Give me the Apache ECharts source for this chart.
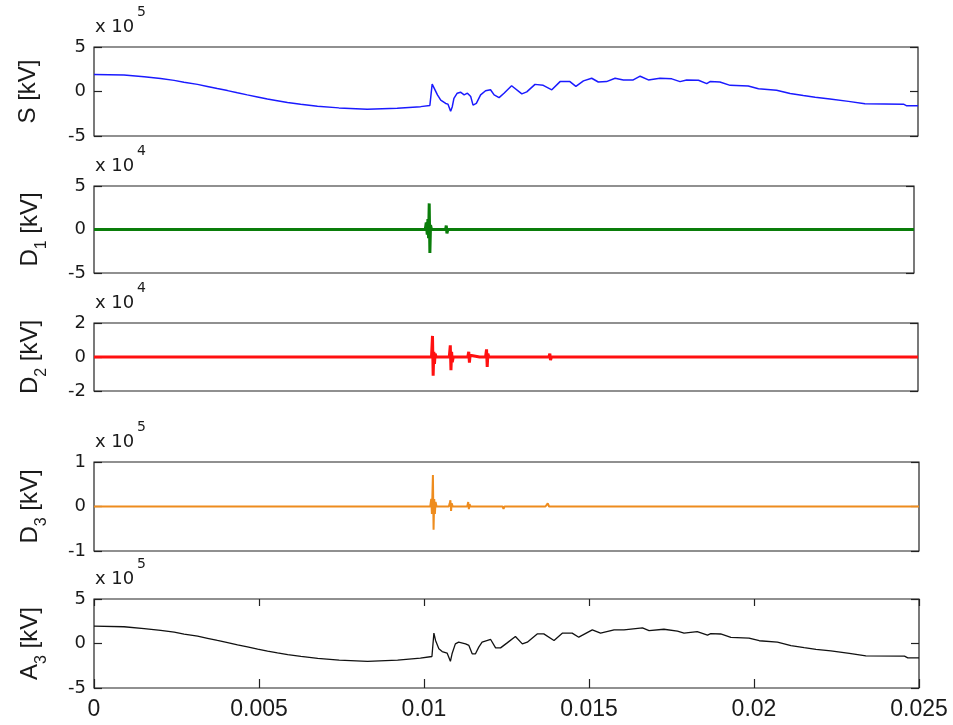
<!DOCTYPE html>
<html>
<head>
<meta charset="utf-8">
<script src="https://cdn.jsdelivr.net/npm/echarts@6/dist/echarts.min.js"></script>
<style>
html,body{margin:0;padding:0;background:#fff;}
#chart{width:953px;height:725px;}
</style>
</head>
<body>
<div id="chart"></div>
<script>
// time axis (s)
const xTicks = [0, 0.005, 0.01, 0.015, 0.02, 0.025];
const xTickLabels = ['0', '0.005', '0.01', '0.015', '0.02', '0.025'];

// S [kV], in units of 1e5
const S_pts = [
[0,1.9],[0.00091,1.85],[0.00152,1.65],[0.00202,1.45],[0.00243,1.25],[0.00273,1.05],[0.00314,0.8],[0.00344,0.57],[0.00374,0.33],[0.00405,0.1],[0.00435,-0.15],[0.00465,-0.38],[0.00496,-0.61],[0.00526,-0.84],[0.00556,-1.03],[0.00587,-1.23],[0.00627,-1.42],[0.00678,-1.65],[0.00743,-1.84],[0.00829,-1.99],[0.0092,-1.88],[0.00991,-1.7],[0.01019,-1.57],[0.01026,0.84],[0.01032,0.38],[0.01042,-0.38],[0.01052,-0.96],[0.01067,-1.34],[0.01074,-1.42],[0.01082,-2.22],[0.01087,-1.7],[0.01092,-0.77],[0.01102,-0.19],[0.01112,-0.08],[0.01123,-0.38],[0.01133,-0.19],[0.01143,-0.57],[0.0115,-1.53],[0.0116,-1.34],[0.01173,-0.38],[0.01188,0.08],[0.01203,0.19],[0.01214,-0.38],[0.01229,-0.69],[0.01244,-0.19],[0.01267,0.65],[0.01298,-0.27],[0.01313,-0.04],[0.01338,0.8],[0.01363,0.69],[0.01389,0.19],[0.01414,1.11],[0.01444,1.11],[0.01462,0.57],[0.01485,1.19],[0.0151,1.49],[0.0153,1.07],[0.01555,1.11],[0.01581,1.49],[0.01606,1.3],[0.01636,1.3],[0.01657,1.72],[0.01682,1.3],[0.01717,1.49],[0.01753,1.42],[0.01778,1.11],[0.01798,1.3],[0.01834,1.26],[0.01859,0.88],[0.01869,1.11],[0.01899,1.07],[0.0193,0.69],[0.01985,0.61],[0.02016,0.31],[0.02071,0.15],[0.02112,-0.23],[0.02152,-0.46],[0.02188,-0.65],[0.02233,-0.84],[0.02289,-1.11],[0.02339,-1.38],[0.02456,-1.42],[0.02466,-1.61],[0.025,-1.61]
];

// D1 [kV], in units of 1e4
const D1_pts = [
[0,0],[0.005,0],[0.0101,0],[0.01013,0.8],[0.01016,-0.6],[0.01018,1.2],[0.0102,-1.0],[0.01022,3.0],[0.01024,-2.7],[0.01026,0.5],[0.01029,0],[0.0105,0],
[0.01072,0],[0.01074,0.45],[0.01076,-0.45],[0.01079,0],[0.012,0],[0.015,0],[0.02,0],[0.025,0]
];

// D2 [kV], in units of 1e4
const D2_pts = [
[0,0],[0.005,0],[0.01024,0],[0.01027,1.24],[0.01029,-1.1],[0.01031,0.3],[0.01033,-0.4],[0.01035,0.2],[0.01038,0],[0.0106,0],
[0.01078,0],[0.01081,0.69],[0.01083,-0.78],[0.01085,0.3],[0.01087,-0.3],[0.0109,0],[0.0111,0],
[0.01134,0],[0.01137,0.31],[0.01139,-0.33],[0.01141,0.1],[0.01144,0],[0.0117,0],
[0.01188,0],[0.01191,0.45],[0.01193,-0.59],[0.01195,0.2],[0.01198,0],[0.013,0],
[0.0138,0],[0.01383,0.2],[0.01385,-0.18],[0.01388,0],[0.015,0],[0.02,0],[0.025,0]
];

// D3 [kV], in units of 1e5
const D3_pts = [
[0,0],[0.005,0],[0.01019,0],[0.01022,0.17],[0.01024,-0.17],[0.01027,0.71],[0.01029,-0.52],[0.01031,0.17],[0.01033,-0.17],[0.01035,0.1],[0.01038,0],[0.0106,0],
[0.01075,0],[0.01078,0.07],[0.0108,0.14],[0.01082,-0.1],[0.01084,0.07],[0.01087,0],[0.0111,0],
[0.01131,0],[0.01134,0.1],[0.01136,-0.06],[0.01138,0.05],[0.01141,0],[0.012,0],
[0.01238,0],[0.01241,-0.05],[0.01244,0],[0.013,0],
[0.01368,0],[0.01372,-0.04],[0.01375,0.07],[0.01379,0],[0.0139,0],[0.0145,0],[0.015,0],[0.02,0],[0.025,0]
];

// A3 [kV], in units of 1e5
const A3_pts = [
[0,1.95],[0.00091,1.88],[0.00152,1.68],[0.00202,1.48],[0.00243,1.27],[0.00273,1.06],[0.00314,0.82],[0.00344,0.58],[0.00374,0.34],[0.00405,0.1],[0.00435,-0.15],[0.00465,-0.38],[0.00496,-0.62],[0.00526,-0.85],[0.00556,-1.05],[0.00587,-1.25],[0.00627,-1.44],[0.00678,-1.67],[0.00743,-1.86],[0.00829,-2.0],[0.0092,-1.86],[0.00989,-1.64],[0.00994,-1.46],[0.01024,-1.46],[0.0103,1.16],[0.01035,0.34],[0.01045,-0.6],[0.01055,-0.9],[0.0107,-1.08],[0.0108,-2.0],[0.01085,-1.16],[0.01095,-0.04],[0.01105,0.15],[0.01126,-0.04],[0.01136,-0.22],[0.01146,-1.16],[0.01156,-1.16],[0.01166,-0.41],[0.01176,0.15],[0.01202,0.45],[0.01217,-0.49],[0.01232,-0.49],[0.01252,0.07],[0.01277,0.78],[0.01298,-0.04],[0.01313,0.15],[0.01343,1.08],[0.01363,1.08],[0.01394,0.34],[0.01419,1.16],[0.01449,1.16],[0.01469,0.71],[0.0151,1.53],[0.01535,1.16],[0.01576,1.53],[0.01606,1.53],[0.01662,1.75],[0.01682,1.45],[0.01727,1.6],[0.01768,1.38],[0.01788,1.16],[0.01828,1.34],[0.01859,0.95],[0.01869,1.11],[0.01899,1.07],[0.0193,0.69],[0.01985,0.61],[0.02016,0.31],[0.02071,0.15],[0.02112,-0.23],[0.02152,-0.46],[0.02188,-0.65],[0.02233,-0.84],[0.02289,-1.11],[0.02339,-1.38],[0.02456,-1.42],[0.02466,-1.61],[0.025,-1.61]
];

const panelNames = ['S', 'D', 'D', 'D', 'A'];
const panelSubs = ['', '1', '2', '3', '3'];
const panelExps = ['5', '4', '4', '5', '5'];
const yMins = [-5, -5, -2, -1, -5];
const yMaxs = [5, 5, 2, 1, 5];
const yIntervals = [5, 5, 2, 1, 5];
const seriesData = [S_pts, D1_pts, D2_pts, D3_pts, A3_pts];
const seriesColors = ['#1a1aff', '#0a7d0a', '#ff1010', '#ee8c1e', '#111111'];
const seriesWidths = [1.5, 3, 3, 2, 1.3];

// layout (pixels)
const gridTops = [47, 186, 323, 462, 599];
const gridHeights = [89, 87, 68, 89, 89];
const gridRights = [35, 39, 35, 34, 34];
const gridLeft = 94;

const FONT = '"Liberation Sans", Arial, Helvetica, sans-serif';
const FONT_W = '"DejaVu Sans", Verdana, sans-serif';
const TXT = '#1a1a1a';

const grids = [], xAxes = [], yAxes = [], series = [], graphics = [];
for (let i = 0; i < 5; i++) {
  const last = i === 4;
  grids.push({left: gridLeft, right: gridRights[i], top: gridTops[i], height: gridHeights[i],
    show: true, borderColor: '#222', borderWidth: 1.2, backgroundColor: '#fff'});
  xAxes.push({type: 'value', gridIndex: i, min: 0, max: 0.025, interval: 0.005, position: 'bottom',
    axisLine: {show: false, onZero: false}, splitLine: {show: false},
    axisTick: {show: last, inside: true, length: 9, lineStyle: {color: '#222', width: 1.2}},
    axisLabel: {show: last, margin: 10, fontSize: 23, fontFamily: FONT, color: TXT,
      formatter: v => { const k = xTicks.findIndex(t => Math.abs(t - v) < 1e-9); return k >= 0 ? xTickLabels[k] : ''; }}
  });
  xAxes.push({type: 'value', gridIndex: i, min: 0, max: 0.025, interval: 0.005, position: 'top',
    axisLine: {show: false, onZero: false}, splitLine: {show: false}, axisLabel: {show: false},
    axisTick: {show: last, inside: true, length: 7, lineStyle: {color: '#222', width: 1.2}}
  });
  const sub = panelSubs[i];
  const nameText = sub ? '{m|' + panelNames[i] + '}{s|' + sub + '}{m| [kV]}' : '{m|' + panelNames[i] + ' [kV]}';
  yAxes.push({type: 'value', gridIndex: i, min: yMins[i], max: yMaxs[i], interval: yIntervals[i], position: 'left',
    axisLine: {show: false, onZero: false}, splitLine: {show: false},
    axisTick: {show: true, inside: true, length: 8, lineStyle: {color: '#222', width: 1.2}},
    axisLabel: {margin: 8, fontSize: 18, fontFamily: FONT_W, color: TXT},
    name: nameText, nameLocation: 'middle', nameGap: sub ? 44 : 46,
    nameTextStyle: {fontFamily: FONT, color: TXT,
      rich: {m: {fontSize: 24, fontFamily: FONT, color: TXT, lineHeight: 32, verticalAlign: 'top'},
             s: {fontSize: 16, fontFamily: FONT, color: TXT, lineHeight: 16, verticalAlign: 'bottom'}}}
  });
  yAxes.push({type: 'value', gridIndex: i, min: yMins[i], max: yMaxs[i], interval: yIntervals[i], position: 'right',
    axisLine: {show: false, onZero: false}, splitLine: {show: false}, axisLabel: {show: false},
    axisTick: {show: true, inside: true, length: 8, lineStyle: {color: '#222', width: 1.2}}
  });
  series.push({type: 'line', xAxisIndex: 2 * i, yAxisIndex: 2 * i, data: seriesData[i],
    showSymbol: false, symbol: 'none', smooth: false, animation: false, z: 3,
    lineStyle: {color: seriesColors[i], width: seriesWidths[i]}});
  graphics.push({type: 'text', left: 95, top: gridTops[i] - 29,
    style: {text: 'x 10', font: '18px ' + FONT_W, fill: TXT}});
  graphics.push({type: 'text', left: 137, top: gridTops[i] - 42,
    style: {text: panelExps[i], font: '14px ' + FONT_W, fill: TXT}});
}

const chart = echarts.init(document.getElementById('chart'), null, {renderer: 'canvas'});
chart.setOption({
  backgroundColor: '#ffffff',
  animation: false,
  grid: grids, xAxis: xAxes, yAxis: yAxes, series: series, graphic: graphics
});
</script>
</body>
</html>
